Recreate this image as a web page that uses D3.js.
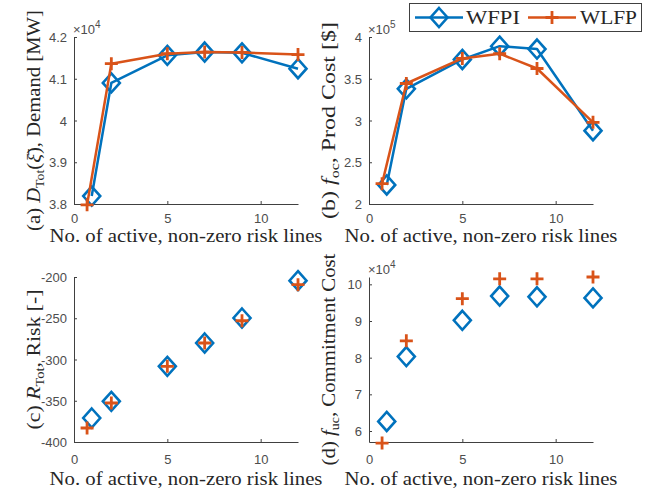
<!DOCTYPE html>
<html>
<head>
<meta charset="utf-8">
<script src="https://cdn.jsdelivr.net/npm/d3@7"></script>
<style>
  html, body { margin: 0; padding: 0; background: #fff; }
  svg { display: block; }
  .tick-label { font-family: "Liberation Sans", Arial, sans-serif; font-size: 13px; fill: #4d4d4d; }
  .serif { font-family: "Liberation Serif", "Times New Roman", serif; fill: #262626; }
</style>
</head>
<body>
<svg id="chart" width="660" height="491"></svg>
<script>
// Number of active, non-zero risk lines for each run
const linesWFPI = [0.95, 2, 5, 7, 9, 12];
const linesWLFP = [0.7, 2, 5, 7, 9, 12];

// (a) total demand served [MW]
const demandWFPI = [38190, 40900, 41560, 41640, 41620, 41240];
const demandWLFP = [37980, 41360, 41600, 41640, 41630, 41580];

// (b) production cost [$]
const prodWFPI = [222800, 337900, 373100, 389000, 385600, 287800];
const prodWLFP = [224400, 344300, 374300, 380000, 362300, 297800];

// (c) total risk [-]
const riskWFPI = [-370.9, -350.7, -308.3, -280, -249.7, -204.4];
const riskWLFP = [-383, -352.7, -308.3, -280, -253, -209.3];

// (d) commitment cost
const commitWFPI = [62600, 80300, 90200, 96800, 96600, 96300];
const commitWLFP = [56700, 84600, 96100, 101500, 101500, 102000];

// Tick values
const xTicks = [0, 5, 10];
const demandTicks = [38000, 39000, 40000, 41000, 42000];
const prodTicks = [200000, 250000, 300000, 350000, 400000];
const riskTicks = [-400, -350, -300, -250, -200];
const commitTicks = [60000, 70000, 80000, 90000, 100000];

const seriesNames = ["WFPI", "WLFP"];
const BLUE = "#0072BD", ORANGE = "#D95319";
const AXIS = "#404040";

const svg = d3.select("#chart");

// Diamond and plus marker paths
const diamond = (hw, hh) => `M0,${-hh}L${hw},0L0,${hh}L${-hw},0Z`;
const plus = s => `M${-s},0L${s},0M0,${-s}L0,${s}`;

// Stretch a text along its baseline so that it spans `len` pixels
function fitText(sel, base, len) {
  const w = sel.node().getComputedTextLength();
  sel.attr("transform", `${base} scale(${len / w},1)`);
}

const panels = [
  { key: "a", box: [74, 37, 298, 204], yDomain: [38000, 42000], yTicks: demandTicks, scale: 1e4, exp: "4",
    ys: [demandWFPI, demandWLFP], lines: true, xlabY: 242, xtickDy: 19, ylabLen: 221,
    ylabel: [["(a) ", {}], ["D", { it: true }], ["Tot", { sub: true }], ["(", {}], ["\u03BE\u0304", { it: true }], ["), Demand [MW]", {}]] },
  { key: "b", box: [369, 37, 593, 204], yDomain: [200000, 400000], yTicks: prodTicks, scale: 1e5, exp: "5",
    ys: [prodWFPI, prodWLFP], lines: true, xlabY: 242, xtickDy: 19, ylabLen: 197,
    ylabel: [["(b) ", {}], ["f", { it: true }], ["oc", { sub: true }], [", Prod Cost [$]", {}]] },
  { key: "c", box: [74, 277, 298, 442], yDomain: [-400, -200], yTicks: riskTicks, scale: 1, exp: null,
    ys: [riskWFPI, riskWLFP], lines: false, xlabY: 485, xtickDy: 22, ylabLen: 140,
    ylabel: [["(c) ", {}], ["R", { it: true }], ["Tot", { sub: true }], [", Risk [-]", {}]] },
  { key: "d", box: [369, 277, 593, 442], yDomain: [57000, 102000], yTicks: commitTicks, scale: 1e4, exp: "4",
    ys: [commitWFPI, commitWLFP], lines: false, xlabY: 485, xtickDy: 22, ylabLen: 212,
    ylabel: [["(d) ", {}], ["f", { it: true }], ["uc", { sub: true }], [", Commitment Cost", {}]] }
];

const xs = [linesWFPI, linesWLFP];
const colors = [BLUE, ORANGE];

panels.forEach(p => {
  const [x0, y0, x1, y1] = p.box;
  const x = d3.scaleLinear().domain([0, 12]).range([x0, x1]);
  const y = d3.scaleLinear().domain(p.yDomain).range([y1, y0]);
  const g = svg.append("g");

  // axes: left and bottom lines with inward ticks
  const xAxis = d3.axisBottom(x).tickValues(xTicks).tickSize(-3).tickSizeOuter(0).tickPadding(0).tickFormat(d3.format("d"));
  const gx = g.append("g").attr("transform", `translate(0,${y1})`).call(xAxis);
  const yFmt = v => String(+(v / p.scale).toFixed(2));
  const yAxis = d3.axisLeft(y).tickValues(p.yTicks).tickSize(-3).tickSizeOuter(0).tickPadding(0).tickFormat(yFmt);
  const gy = g.append("g").attr("transform", `translate(${x0},0)`).call(yAxis);

  [gx, gy].forEach(a => {
    a.select(".domain").attr("stroke", AXIS).attr("stroke-width", 1);
    a.selectAll(".tick line").attr("stroke", AXIS).attr("stroke-width", 1);
    a.selectAll(".tick text").attr("class", "tick-label").attr("fill", null);
  });
  gx.selectAll(".tick text").attr("y", p.xtickDy).attr("dy", null);
  gy.selectAll(".tick text").attr("x", -7).attr("dy", "0.35em");

  // exponent label
  if (p.exp) {
    const e = g.append("text").attr("class", "tick-label").attr("x", x0 - 1).attr("y", y0 - 3).style("font-size", "13px");
    e.append("tspan").text("\u00D710");
    e.append("tspan").attr("dy", -6).style("font-size", "10px").text(p.exp);
  }

  // series
  for (let s = 0; s < 2; s++) {
    const pts = xs[s].map((xv, i) => [x(xv), y(p.ys[s][i])]);
    if (p.lines) {
      g.append("path").attr("d", d3.line()(pts)).attr("fill", "none")
        .attr("stroke", colors[s]).attr("stroke-width", 2.5).attr("stroke-linejoin", "round");
    }
    g.selectAll(null).data(pts).enter().append("path")
      .attr("transform", d => `translate(${d[0]},${d[1]})`)
      .attr("d", s === 0 ? diamond(8.5, 9.5) : plus(6.5))
      .attr("fill", "none").attr("stroke", colors[s]).attr("stroke-width", s === 0 ? 2.6 : 2.8);
  }

  // x label
  const xl = g.append("text").attr("class", "serif")
    .attr("text-anchor", "middle").style("font-size", "18px")
    .text("No. of active, non-zero risk lines");
  fitText(xl, `translate(${(x0 + x1) / 2},${p.xlabY})`, 273);

  // y label (rotated)
  const yl = g.append("text").attr("class", "serif").attr("text-anchor", "middle").style("font-size", "18px");
  let prevSub = false;
  p.ylabel.forEach(([t, o]) => {
    const ts = yl.append("tspan").text(t);
    if (o.it) ts.style("font-style", "italic");
    if (o.sub) ts.attr("dy", 4).style("font-size", "12px");
    else if (prevSub) ts.attr("dy", -4);
    prevSub = !!o.sub;
  });
  fitText(yl, `translate(${x0 - 34},${(y0 + y1) / 2}) rotate(-90)`, p.ylabLen);
});

// legend
const lg = svg.append("g");
lg.append("rect").attr("x", 409.5).attr("y", 3.5).attr("width", 232).attr("height", 28)
  .attr("fill", "#fff").attr("stroke", AXIS).attr("stroke-width", 1);
const legendItems = [
  { name: seriesNames[0], color: BLUE, x1: 415, x2: 463, tx: 466, len: 54, mark: diamond(8.5, 9.5), sw: 2.6 },
  { name: seriesNames[1], color: ORANGE, x1: 528, x2: 576, tx: 580, len: 57, mark: plus(6.5), sw: 2.8 }
];
legendItems.forEach(it => {
  const cy = 17.5;
  lg.append("line").attr("x1", it.x1).attr("x2", it.x2).attr("y1", cy).attr("y2", cy)
    .attr("stroke", it.color).attr("stroke-width", 2.5);
  lg.append("path").attr("d", it.mark).attr("transform", `translate(${(it.x1 + it.x2) / 2},${cy})`)
    .attr("fill", "none").attr("stroke", it.color).attr("stroke-width", it.sw);
  const t = lg.append("text").attr("class", "serif").style("font-size", "19px").text(it.name);
  fitText(t, `translate(${it.tx},${cy + 6.5})`, it.len);
});
</script>
</body>
</html>
